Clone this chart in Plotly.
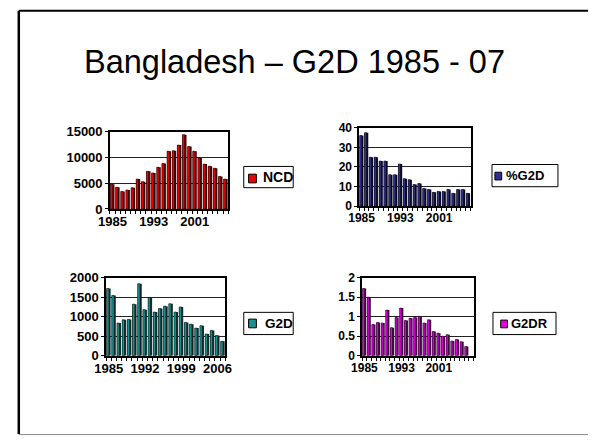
import plotly.graph_objects as go

W, H = 594, 445

years = list(range(1985, 2008))
ncd = [4800, 4200, 3400, 3700, 4100, 5800, 5300, 7300, 7000, 8100, 8800, 11200,
       11300, 12400, 14400, 12100, 11200, 9900, 8700, 8300, 7900, 6300, 5800]
pct_g2d = [36, 37.5, 25, 25, 23, 23, 16, 16, 21.5, 14, 13.5, 11, 11.5, 9, 8.5,
           7, 7.5, 7.5, 8.5, 6.5, 8.5, 8.5, 6.5]
g2d = [1720, 1540, 840, 920, 930, 1320, 1840, 1180, 1490, 1120, 1210, 1270, 1330,
       1120, 1250, 850, 810, 710, 770, 560, 650, 520, 370]
g2dr = [1.72, 1.5, 0.8, 0.85, 0.84, 1.17, 0.72, 0.98, 1.22, 0.9, 0.96, 0.98, 1.01,
        0.84, 0.92, 0.62, 0.58, 0.5, 0.54, 0.38, 0.42, 0.36, 0.24]

title = "Bangladesh – G2D 1985 - 07"
FONT = "Liberation Sans, Arial, sans-serif"

panels = [
    dict(name="NCD", vals=ncd, face="#f00000", side="#2a0606", box=(101, 223, 129, 209),
         yr=[0, 15000], dt=5000, tv=[1985, 1993, 2001], xmax=2007.5, fs=13,
         leg=(239, 290, 165, 187), sw=(244, 252, 173, 182), tx=257, lfs=14),
    dict(name="%G2D", vals=pct_g2d, face="#30308c", side="#0a0a1e", box=(358, 473, 125, 206),
         yr=[0, 40], dt=10, tv=[1985, 1993, 2001], xmax=2007.5, fs=12,
         leg=(495, 563, 163, 186), sw=(498, 505, 171, 179), tx=507, lfs=13),
    dict(name="G2D", vals=g2d, face="#1a9090", side="#1c2a2a", box=(97, 220, 280, 361),
         yr=[0, 2000], dt=500, tv=[1985, 1992, 1999, 2006], xmax=2007.5, fs=13,
         leg=(239, 290, 316, 339), sw=(244, 252, 323, 332), tx=259, lfs=13.5),
    dict(name="G2DR", vals=g2dr, face="#e000e0", side="#3a0a3a", box=(361, 476, 280, 361),
         yr=[0, 2], dt=0.5, tv=[1985, 1993, 2001], xmax=2008.5, fs=12,
         leg=(496, 561, 316, 339), sw=(504, 511, 324, 332), tx=513, lfs=13),
]

fig = go.Figure()
shapes = []
annotations = []

for i, p in enumerate(panels, start=1):
    xa = "x" if i == 1 else f"x{i}"
    ya = "y" if i == 1 else f"y{i}"
    fig.add_trace(go.Bar(x=years, y=p["vals"], xaxis=xa, yaxis=ya, width=0.78, offset=-0.4,
                         marker=dict(color=p["side"], line=dict(width=0)),
                         showlegend=False, hoverinfo="skip"))
    fig.add_trace(go.Bar(x=years, y=p["vals"], xaxis=xa, yaxis=ya, width=0.45, offset=-0.4,
                         marker=dict(color=p["face"], line=dict(color="black", width=0.5)),
                         name=p["name"], showlegend=False))
    x0, x1, y0, y1 = p["box"]
    xkey = "xaxis" if i == 1 else f"xaxis{i}"
    ykey = "yaxis" if i == 1 else f"yaxis{i}"
    fig.update_layout(**{
        xkey: dict(domain=[x0 / W, x1 / W], anchor=ya, range=[1984.5, p["xmax"]],
                   tickvals=p["tv"], ticktext=[str(v) for v in p["tv"]],
                   ticks="", showgrid=False, zeroline=False,
                   showline=True, mirror=True, linecolor="black", linewidth=1.5,
                   minor=dict(tick0=1984.5, dtick=1, ticks="outside", ticklen=3,
                              tickcolor="black", showgrid=False),
                   tickfont=dict(family=FONT, size=p["fs"], color="black", weight="bold"),
                   fixedrange=True),
        ykey: dict(domain=[1 - y1 / H, 1 - y0 / H], anchor=xa, range=p["yr"], dtick=p["dt"],
                   tick0=0, tickformat="~r" if p["dt"] < 1 else "d",
                   ticks="outside", ticklen=3, tickcolor="black",
                   showgrid=True, gridcolor="#222222", gridwidth=1, zeroline=False,
                   showline=True, mirror=True, linecolor="black", linewidth=1.5,
                   tickfont=dict(family=FONT, size=p["fs"], color="black", weight="bold"),
                   fixedrange=True),
    })
    lx0, lx1, ly0, ly1 = p["leg"]
    shapes.append(dict(type="rect", xref="paper", yref="paper",
                       x0=lx0 / W, x1=lx1 / W, y0=1 - ly1 / H, y1=1 - ly0 / H,
                       line=dict(color="black", width=1), fillcolor="white", layer="above"))
    sx0, sx1, sy0, sy1 = p["sw"]
    shapes.append(dict(type="rect", xref="paper", yref="paper",
                       x0=sx0 / W, x1=sx1 / W, y0=1 - sy1 / H, y1=1 - sy0 / H,
                       line=dict(color="black", width=1), fillcolor=p["face"], layer="above"))
    annotations.append(dict(text=p["name"], xref="paper", yref="paper",
                            x=p["tx"] / W, y=1 - ((ly0 + ly1) / 2) / H,
                            xanchor="left", yanchor="middle", showarrow=False,
                            font=dict(family=FONT, size=p["lfs"], color="black", weight="bold")))

# slide frame
shapes.append(dict(type="line", xref="paper", yref="paper", x0=7 / W, x1=7 / W,
                   y0=1 - 442 / H, y1=1 - 4 / H, line=dict(color="black", width=2.5)))
shapes.append(dict(type="line", xref="paper", yref="paper", x0=7 / W, x1=1,
                   y0=1 - 4 / H, y1=1 - 4 / H, line=dict(color="black", width=2)))
shapes.append(dict(type="line", xref="paper", yref="paper", x0=7 / W, x1=1,
                   y0=1 - 442.5 / H, y1=1 - 442.5 / H, line=dict(color="#888888", width=1)))

annotations.append(dict(text=title, xref="paper", yref="paper", x=291 / W, y=1 - 57 / H,
                        xanchor="center", yanchor="middle", showarrow=False,
                        font=dict(family=FONT, size=32.5, color="black")))

fig.update_layout(width=W, height=H, margin=dict(l=0, r=0, t=0, b=0),
                  paper_bgcolor="white", plot_bgcolor="white", barmode="overlay",
                  showlegend=False, shapes=shapes, annotations=annotations)

fig.write_html("out.html", config={"displayModeBar": False},
               post_script="document.body.style.margin='0';document.body.style.overflow='hidden';")
